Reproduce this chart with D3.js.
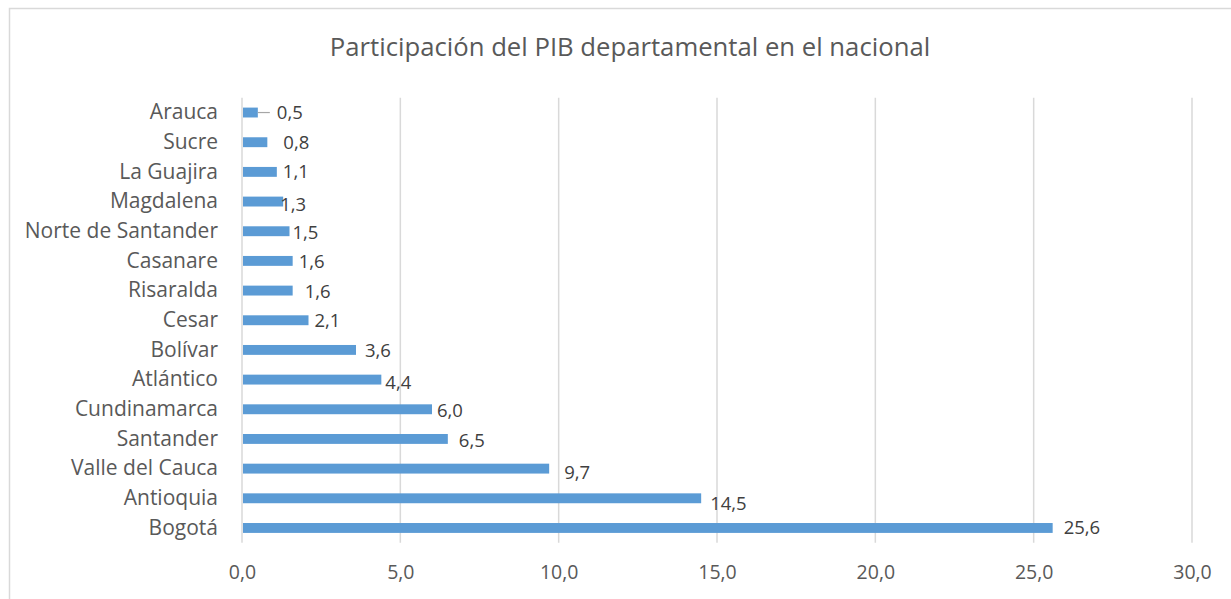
<!DOCTYPE html>
<html>
<head>
<meta charset="utf-8">
<script src="https://cdn.jsdelivr.net/npm/d3@7"></script>
<style>
  body { margin: 0; background: #fff; }
  svg { display: block; font-family: "Open Sans", "Noto Sans", sans-serif; }
</style>
</head>
<body>
<div id="chart"></div>
<script>
// Data (top to bottom as shown)
const departamentos = ["Arauca", "Sucre", "La Guajira", "Magdalena", "Norte de Santander",
  "Casanare", "Risaralda", "Cesar", "Bolívar", "Atlántico", "Cundinamarca",
  "Santander", "Valle del Cauca", "Antioquia", "Bogotá"];
const participacion = [0.5, 0.8, 1.1, 1.3, 1.5, 1.6, 1.6, 2.1, 3.6, 4.4, 6.0, 6.5, 9.7, 14.5, 25.6];
const xTicks = [0, 5, 10, 15, 20, 25, 30];

// label nudges (px) as placed in the original sheet
const labelDx = [19, 16, 6, -3, 3, 6, 12, 6, 9, 4, 5, 11, 15, 9, 11];
const labelDy = [0, 0, 0, 3, 1, 1, 1, 0, 1, 3, 1, 2, 4, 5, 0];

const W = 1231, H = 599;
const plot = {left: 242, right: 1192, top: 97.7, bottom: 542.8};

const svg = d3.select("#chart").append("svg")
  .attr("width", W).attr("height", H);

// chart border
svg.append("rect")
  .attr("x", 9.5).attr("y", 8.5)
  .attr("width", 1250).attr("height", 620)
  .attr("fill", "#fff")
  .attr("stroke", "#d9d9d9")
  .attr("stroke-width", 1.5);

// title
svg.append("text")
  .attr("x", 630).attr("y", 56)
  .attr("text-anchor", "middle")
  .style("font-size", "25.7px")
  .style("fill", "#595959")
  .text("Participación del PIB departamental en el nacional");

const x = d3.scaleLinear().domain([0, 30]).range([plot.left, plot.right]);
const y = d3.scaleBand().domain(departamentos)
  .range([plot.top, plot.bottom])
  .paddingInner(2 / 3).paddingOuter(1 / 3);

// gridlines
svg.append("g")
  .selectAll("line")
  .data(xTicks)
  .join("line")
  .attr("x1", d => x(d)).attr("x2", d => x(d))
  .attr("y1", plot.top).attr("y2", plot.bottom)
  .attr("stroke", "#d9d9d9")
  .attr("stroke-width", 1.5);

// x axis labels
const xAxis = svg.append("g")
  .attr("transform", `translate(0, ${plot.bottom})`)
  .call(d3.axisBottom(x).tickValues(xTicks).tickSize(0).tickPadding(22)
    .tickFormat(d => d3.format(".1f")(d).replace(".", ",")));
xAxis.select(".domain").remove();
xAxis.selectAll("text")
  .style("font-family", "'Open Sans', sans-serif")
  .style("font-size", "19.5px")
  .style("fill", "#595959");

// y axis labels
const yAxis = svg.append("g")
  .attr("transform", `translate(${plot.left}, 0)`)
  .call(d3.axisLeft(y).tickSize(0).tickPadding(24));
yAxis.select(".domain").remove();
yAxis.selectAll("text")
  .style("font-family", "'Open Sans', sans-serif")
  .style("font-size", "21px")
  .style("fill", "#595959");

const rows = departamentos.map((d, i) => ({name: d, value: participacion[i], dx: labelDx[i], dy: labelDy[i]}));

// bars
svg.append("g")
  .selectAll("rect")
  .data(rows)
  .join("rect")
  .attr("x", x(0) + 1)
  .attr("y", d => y(d.name))
  .attr("width", d => x(d.value) - x(0) - 1)
  .attr("height", y.bandwidth())
  .attr("fill", "#5b9bd5");

// leader line for the first label
svg.append("line")
  .attr("x1", x(rows[0].value)).attr("x2", x(rows[0].value) + 12)
  .attr("y1", y(rows[0].name) + y.bandwidth() / 2)
  .attr("y2", y(rows[0].name) + y.bandwidth() / 2)
  .attr("stroke", "#a6a6a6").attr("stroke-width", 1.2);

// data labels
svg.append("g")
  .selectAll("text")
  .data(rows)
  .join("text")
  .attr("x", d => x(d.value) + d.dx)
  .attr("y", d => y(d.name) + y.bandwidth() / 2 + d.dy)
  .attr("dy", "0.35em")
  .style("font-size", "18.5px")
  .style("fill", "#404040")
  .text(d => d3.format(".1f")(d.value).replace(".", ","));
</script>
</body>
</html>
